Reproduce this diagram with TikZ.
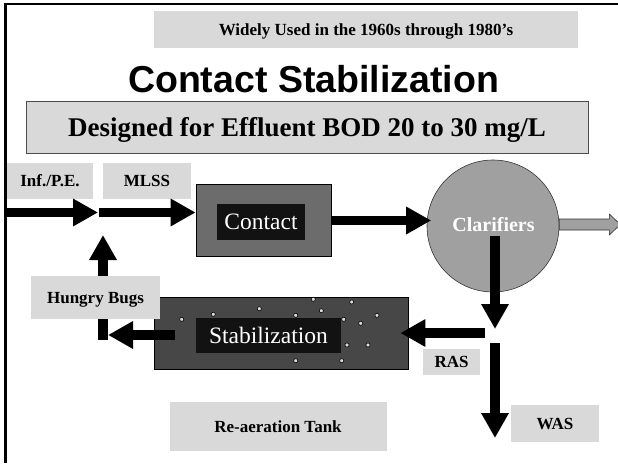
\documentclass[tikz,border=0pt]{standalone}
\usepackage{fontspec}
\setmainfont{Liberation Serif}
\newfontfamily\headfont{Liberation Sans}
\usetikzlibrary{arrows.meta}
\usetikzlibrary{calc}

\definecolor{labelgray}{RGB}{217,217,217}
\definecolor{contactgray}{RGB}{108,108,108}
\definecolor{stabgray}{RGB}{71,71,71}
\definecolor{clargray}{RGB}{160,160,160}
\definecolor{platebg}{RGB}{18,18,18}

\tikzset{
  tag/.style={fill=labelgray, inner sep=0pt, text depth=0pt, font=\bfseries\fontsize{17}{17}\selectfont},
  plate/.style={fill=platebg, text=white, inner sep=0pt, text depth=0pt, font=\fontsize{23.5}{23.5}\selectfont},
  tank/.style={draw=black, line width=0.8pt, inner sep=0pt},
  flow/.style={line width=9.5pt, -{Triangle[length=25pt,width=26pt]}},
  bubble/.style={circle, draw=black, fill=black!15, line width=0.6pt, inner sep=0pt, minimum size=4.2pt}
}

\begin{document}
\begin{tikzpicture}[x=1pt,y=-1pt]
    \useasboundingbox (0,0) rectangle (618,463);
    \draw[line width=2.5pt] (5.5,463) -- (5.5,4) -- (618,4);

    \node[tag, minimum width=424pt, minimum height=37pt] (era) at (366,29.5) {Widely Used in the 1960s through 1980’s};
    \node[anchor=base, font=\headfont\bfseries\fontsize{37.5}{37.5}\selectfont] (title) at (313.5,92) {Contact Stabilization};
    \node[fill=labelgray, draw=black!70, line width=0.8pt, inner sep=0pt, text depth=0pt, minimum width=562pt, minimum height=52pt, font=\bfseries\fontsize{27}{27}\selectfont] (design) at (307,127) {Designed for Effluent BOD 20 to 30 mg/L};

    \node[tag, minimum width=86pt, minimum height=36pt] (inf) at (50,181) {Inf./P.E.};
    \node[tag, minimum width=88pt, minimum height=36pt] (mlss) at (147,181) {MLSS};

    \node[tank, fill=contactgray, minimum width=135pt, minimum height=72pt] (contact) at (263.5,220) {};
    \node[plate, minimum width=88pt, minimum height=36pt] (contactlbl) at (261,222) {Contact};

    \node[circle, draw=black!80, fill=clargray, line width=0.6pt, minimum size=132pt, inner sep=0pt] (clar) at (493,226) {};
    \node[text=white, font=\bfseries\fontsize{20}{20}\selectfont, text depth=0pt] (clarlbl) at (493.5,224) {Clarifiers};

    \node[tank, fill=stabgray, minimum width=254pt, minimum height=72pt] (stab) at (281,333) {};
    \foreach \px/\py in {181.7/319.3, 213.3/314.3, 259.3/308.7, 295.7/315.3, 313.3/299.3, 321.3/310.7, 351.7/302,
                        343.7/319.3, 360.7/323.3, 377/315.3, 347/345, 368/345, 295.7/360.7, 341.7/360.7}
        \node[bubble] at (\px,\py) {};
    \node[plate, minimum width=145pt, minimum height=35pt] (stablbl) at (268.5,335.5) {Stabilization};

    \coordinate (inlet) at (5.5,212.5);
    \coordinate (mix) at (98,212.5);
    \coordinate (return) at (103,235);
    \coordinate (bend) at (103,340);
    \coordinate (drop) at (495,329);
    \coordinate (split) at (495,333);
    \coordinate (wasend) at (495,438);

    \draw[flow] (inlet) -- (mix);
    \draw[flow] ($(mix)+(1,0)$) -- (contact.west |- mix);
    \draw[flow] (bend) -- (return);
    \draw[flow] ($(contact.east)+(0,0.5)$) -- ($(clar.west)+(4.5,-5.5)$);
    \draw[flow] ($(clar.center)+(2,10)$) -- (drop);
    \draw[flow] ($(split)+(-10,0)$) -- ($(stab.east)+(-8,0)$);
    \draw[flow] ($(split)+(0,10)$) -- (wasend);
    \draw[flow] ($(stab.west)+(21,2)$) -- ($(bend)+(5,-5)$);

    \draw[fill=clargray, draw=black!80, line width=0.6pt] ($(clar.east)+(0,-7)$) -- ++(50,0) -- ++(0,-5) -- ++(11,10.5) -- ++(-11,10.5) -- ++(0,-5) -- ++(-50,0) -- cycle;

    \node[tag, minimum width=129pt, minimum height=43pt] (bugs) at (95.5,297.5) {Hungry Bugs};
    \node[tag, minimum width=57pt, minimum height=26pt] (ras) at (451.5,362) {RAS};
    \node[tag, minimum width=88pt, minimum height=37pt] (was) at (555,423.5) {WAS};
    \node[tag, minimum width=217pt, minimum height=49pt] (reair) at (278,426.5) {Re-aeration Tank};
\end{tikzpicture}
\end{document}
